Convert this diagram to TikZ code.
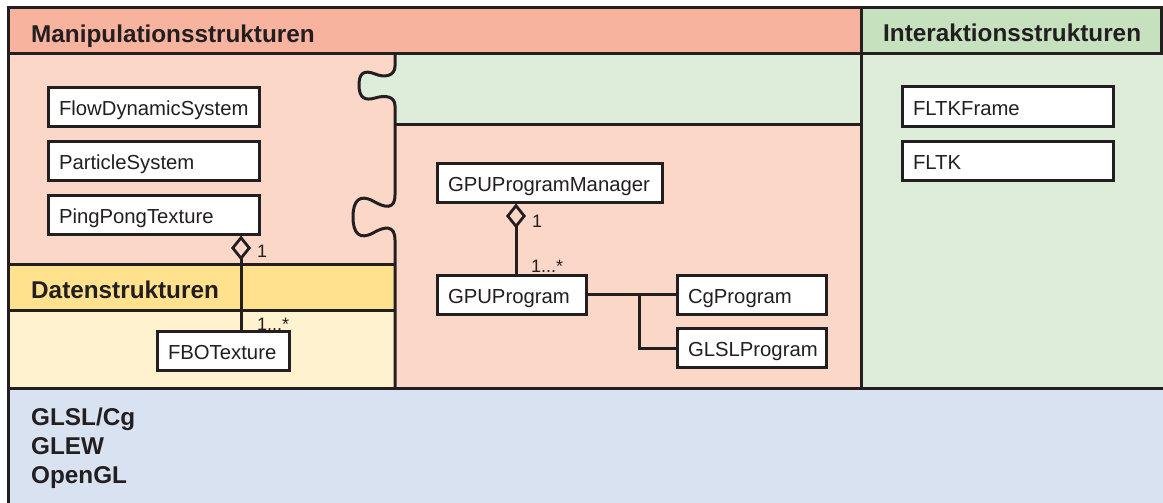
\documentclass[tikz,border=0pt]{standalone}
\usepackage{fontspec}
\setmainfont{Liberation Sans}
\usetikzlibrary{arrows.meta}
\definecolor{linec}{RGB}{35,31,32}
\definecolor{redhead}{RGB}{247,179,157}
\definecolor{salbody}{RGB}{251,215,200}
\definecolor{grnhead}{RGB}{197,225,190}
\definecolor{grnbody}{RGB}{222,237,218}
\definecolor{yelhead}{RGB}{255,225,142}
\definecolor{yelbody}{RGB}{255,242,207}
\definecolor{bluebody}{RGB}{217,226,241}
\begin{document}
\begin{tikzpicture}[x=1pt,y=-1pt,
  region/.style={draw=linec, line width=3pt},
  umlbox/.style={draw=linec, line width=3pt, fill=white, inner xsep=11pt, inner ysep=11pt,
    text height=17pt, text depth=0pt, minimum height=39pt, align=left,
    font=\fontsize{20.3}{24}\selectfont, text=linec},
  conn/.style={draw=linec, line width=3pt},
  agg/.style={conn, -{Diamond[open, length=25pt, width=20pt, line width=2.8pt]}},
  title/.style={anchor=base west, inner sep=0pt, font=\fontsize{24.3}{28}\selectfont\bfseries, text=linec},
  mult/.style={anchor=base west, inner sep=0pt, font=\fontsize{18}{22}\selectfont, text=linec}]
\useasboundingbox (0,0) rectangle (1163,503);
% backgrounds
\fill[salbody] (8,8) rectangle (1163,388);
\fill[grnbody] (861,54) rectangle (1163,388);
\fill[grnbody] (395,54) -- (395,66)
  .. controls (395,76) and (385,78) .. (375,74)
  .. controls (365,70) and (359,72) .. (359,85)
  .. controls (359,98) and (365,101) .. (375,98)
  .. controls (385,95) and (395,96) .. (395,106)
  -- (395,124) -- (861,124) -- (861,54) -- cycle;
\fill[yelhead] (8,264) rectangle (395,310);
\fill[yelbody] (8,310) rectangle (395,388);
\fill[bluebody] (8,388) rectangle (1163,503);
% region outlines
\draw[region] (395,54) -- (395,66)
  .. controls (395,76) and (385,78) .. (375,74)
  .. controls (365,70) and (359,72) .. (359,85)
  .. controls (359,98) and (365,101) .. (375,98)
  .. controls (385,95) and (395,96) .. (395,106)
  -- (395,195)
  .. controls (395,210) and (385,208) .. (373,201)
  .. controls (360,194) and (353,200) .. (353,217)
  .. controls (353,234) and (360,240) .. (373,233)
  .. controls (385,226) and (395,225) .. (395,240)
  -- (395,388);
\draw[region] (395,124) -- (861,124);
\draw[region] (8,264) -- (395,264);
\draw[region] (8,310) -- (395,310);
\draw[region] (861,54) -- (861,388);
\draw[region] (8,388) -- (1163,388);
\filldraw[region, fill=redhead] (8,8) rectangle (861,54);
\filldraw[region, fill=grnhead] (861,8) rectangle (1161.5,54);
\draw[region] (8,8) -- (8,503);
% titles
\node[title] (tman) at (31,43) {Manipulationsstrukturen};
\node[title] (tint) at (883,42) {Interaktionsstrukturen};
\node[title] (tdat) at (31,298) {Datenstrukturen};
\node[title] (tglsl) at (31,425) {GLSL/Cg};
\node[title] (tglew) at (31,454) {GLEW};
\node[title] (togl) at (31,483) {OpenGL};
% multiplicities
\node[mult] (m1) at (257,257) {1};
\node[mult] (m2) at (257,330) {1...*};
\node[mult] (m3) at (532,227) {1};
\node[mult] (m4) at (531,272) {1...*};
% classes
\node[umlbox, text width=189pt] (fds) at (153.5,107) {FlowDynamicSystem};
\node[umlbox, text width=189pt] (ps) at (153.5,160.5) {ParticleSystem};
\node[umlbox, text width=189pt] (ppt) at (153.5,214.5) {PingPongTexture};
\node[umlbox, text width=110pt] (fbo) at (223,350.5) {FBOTexture};
\node[umlbox, text width=203pt] (mgr) at (549.5,182.5) {GPUProgramManager};
\node[umlbox, text width=127pt] (gpu) at (511.5,294.5) {GPUProgram};
\node[umlbox, text width=127pt] (cg) at (751.5,294.5) {CgProgram};
\node[umlbox, text width=127pt] (glsl) at (751.5,348) {GLSLProgram};
\node[umlbox, text width=189pt] (fltkf) at (1007.5,106.5) {FLTKFrame};
\node[umlbox, text width=189pt] (fltk) at (1007.5,160.5) {FLTK};
% connectors
\draw[agg] ([xshift=18pt]fbo.north) -- ([xshift=18pt]fbo.north |- ppt.south);
\draw[agg] ([xshift=4.5pt]gpu.north) -- ([xshift=4.5pt]gpu.north |- mgr.south);
\draw[conn] (gpu.east) -- (cg.west);
\draw[conn] ([xshift=52pt]gpu.east) |- (glsl.west);
\end{tikzpicture}
\end{document}
